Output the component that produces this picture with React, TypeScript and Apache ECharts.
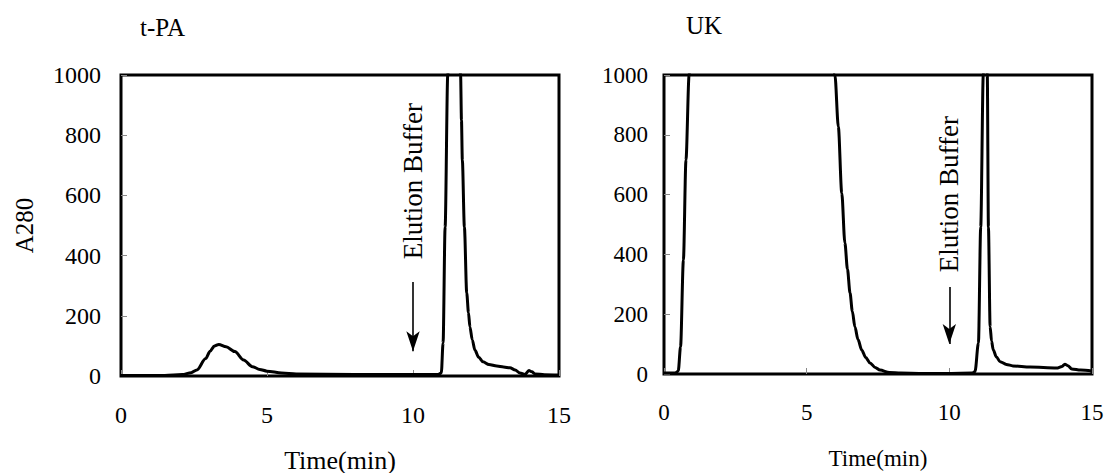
import React, { useEffect, useRef } from "react";
import * as echarts from "echarts";

// ---- data ----
const tpaTime = [0, 1.5, 2.1, 2.4, 2.6, 2.9, 3.05, 3.2, 3.35, 3.6, 3.9, 4.2, 4.5, 4.75, 5.0, 5.5, 6.0, 8, 10, 10.85, 10.97, 11.03, 11.1, 11.19, 11.4, 11.63, 11.66, 11.69, 11.76, 11.84, 11.9, 11.95, 12.03, 12.12, 12.25, 12.4, 12.6, 12.87, 13.1, 13.32, 13.5, 13.66, 13.83, 13.97, 14.07, 14.18, 14.5, 15];
const tpaA280 = [2, 2, 5, 11, 20, 58, 82, 100, 105, 97, 81, 53, 31, 22, 16, 10, 7, 5, 5, 5, 10, 110, 495, 1000, 3000, 1000, 850, 717, 495, 276, 210, 163, 120, 86, 62, 47, 38, 33, 30, 27, 20, 10, 5, 18, 14, 7, 4, 3];

const ukTime = [0, 0.4, 0.5, 0.58, 0.68, 0.77, 0.88, 1.2, 3, 5.5, 5.99, 6.11, 6.23, 6.34, 6.43, 6.52, 6.6, 6.69, 6.8, 6.93, 7.07, 7.22, 7.4, 7.57, 7.9, 8.3, 9, 10, 10.8, 10.9, 11.02, 11.1, 11.19, 11.26, 11.33, 11.37, 11.43, 11.48, 11.54, 11.65, 11.78, 12.0, 12.23, 12.83, 13.76, 13.95, 14.05, 14.15, 14.29, 14.6, 15];
const ukA280 = [3, 3, 10, 91, 381, 716, 1000, 2500, 3000, 2500, 1000, 827, 605, 438, 350, 271, 210, 158, 115, 80, 55, 37, 22, 13, 5, 3, 2, 2, 3, 8, 104, 492, 1000, 1150, 1000, 492, 158, 110, 80, 57, 41, 32, 27, 23, 20, 25, 33, 28, 17, 13, 10];

const panelTitles = ["t-PA", "UK"];
const xAxisName = "Time(min)";
const yAxisName = "A280";
const bufferLabel = "Elution Buffer";
const bufferTime = 10;
const tpaArrow = [312, 82];
const ukArrow = [291, 100];
const tpaLabelY = 661;
const ukLabelY = 615;

const FONT = "Liberation Serif";

export default function App() {
  const ref = useRef<HTMLDivElement>(null);
  useEffect(() => {
    if (!ref.current) return;
    const chart = echarts.init(ref.current, null, { renderer: "svg" });

    const mkX = (idx: number, fs: number) => ({
      type: "value",
      gridIndex: idx,
      min: 0,
      max: 15,
      interval: 5,
      name: xAxisName,
      nameLocation: "middle",
      nameGap: idx === 0 ? 71 : 73,
      nameTextStyle: { fontFamily: FONT, fontSize: idx === 0 ? 26 : 23, color: "#000" },
      axisLine: { show: false },
      axisTick: { show: true, inside: true, length: 6, lineStyle: { color: "#888", width: 1 } },
      axisLabel: { fontFamily: FONT, fontSize: fs, color: "#000", margin: 27, formatter: (v: number) => String(v) },
      splitLine: { show: false },
    });
    const mkY = (idx: number, fs: number, margin: number) => ({
      type: "value",
      gridIndex: idx,
      min: 0,
      max: 1000,
      interval: 200,
      name: idx === 0 ? yAxisName : "",
      nameLocation: "middle",
      nameGap: 84,
      nameTextStyle: { fontFamily: FONT, fontSize: 25, color: "#000" },
      axisLine: { show: false },
      axisTick: { show: true, inside: true, length: 6, lineStyle: { color: "#888", width: 1 } },
      axisLabel: { fontFamily: FONT, fontSize: fs, color: "#000", margin, formatter: (v: number) => String(v) },
      splitLine: { show: false },
    });

    const mkSeries = (idx: number, t: number[], v: number[], arrow: number[], labelY: number, fs: number) => ({
      type: "line",
      xAxisIndex: idx,
      yAxisIndex: idx,
      data: t.map((x, i) => [x, v[i]]),
      showSymbol: false,
      smooth: 0.3,
      smoothMonotone: "x",
      clip: true,
      lineStyle: { color: "#000", width: 3 },
      silent: true,
      markLine: {
        silent: true,
        symbol: ["none", "arrow"],
        symbolSize: [10, 20],
        label: { show: false },
        lineStyle: { color: "#000", width: 1.6, type: "solid" },
        data: [[{ coord: [bufferTime, arrow[0]] }, { coord: [bufferTime, arrow[1]] }]],
      },
      markPoint: {
        silent: true,
        symbol: "circle",
        symbolSize: 0,
        label: {
          show: true,
          position: "inside",
          rotate: 90,
          formatter: bufferLabel,
          fontFamily: FONT,
          fontSize: fs,
          color: "#000",
          offset: [-4, 0],
        },
        data: [{ coord: [bufferTime, labelY] }],
      },
    });

    chart.setOption({
      animation: false,
      backgroundColor: "#fff",
      title: [
        { text: panelTitles[0], left: 140, top: 15, padding: 0, textStyle: { fontFamily: FONT, fontSize: 25, fontWeight: "normal", color: "#000" } },
        { text: panelTitles[1], left: 686, top: 13, padding: 0, textStyle: { fontFamily: FONT, fontSize: 25, fontWeight: "normal", color: "#000" } },
      ],
      grid: [
        { left: 121, top: 75, width: 438, height: 301, outerBoundsMode: "none", containLabel: false, show: true, borderColor: "#000", borderWidth: 3, backgroundColor: "transparent" },
        { left: 664, top: 75, width: 428, height: 299, outerBoundsMode: "none", containLabel: false, show: true, borderColor: "#000", borderWidth: 3, backgroundColor: "transparent" },
      ],
      xAxis: [mkX(0, 24), mkX(1, 23)],
      yAxis: [mkY(0, 24, 20), mkY(1, 23, 16)],
      series: [
        mkSeries(0, tpaTime, tpaA280, tpaArrow, tpaLabelY, 27),
        mkSeries(1, ukTime, ukA280, ukArrow, ukLabelY, 27),
      ],
    });
    return () => chart.dispose();
  }, []);
  return <div ref={ref} style={{ position: "absolute", left: 0, top: 0, width: 1106, height: 473 }} />;
}
